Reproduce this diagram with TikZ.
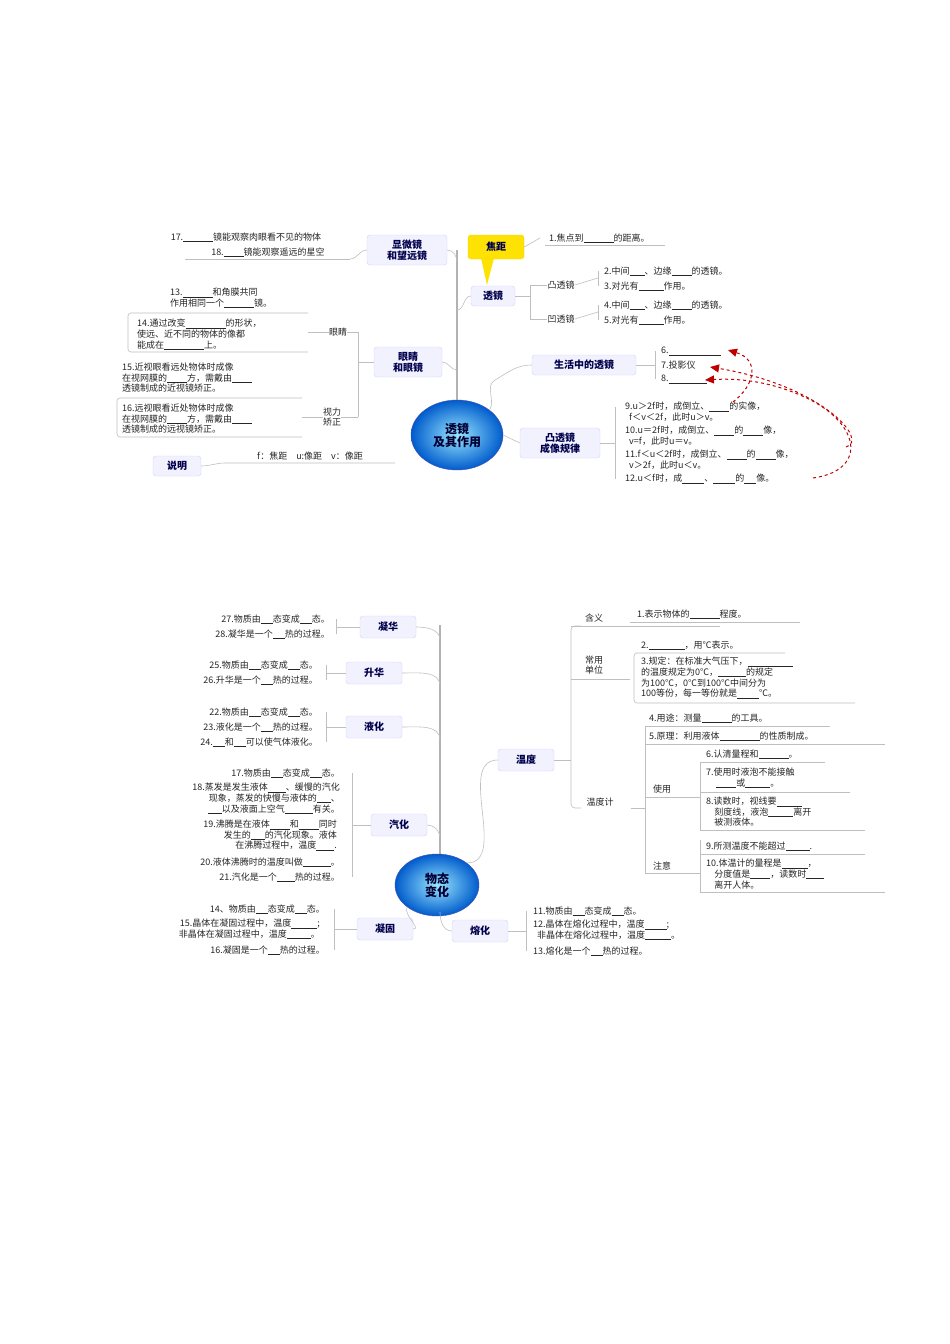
\documentclass[tikz,border=0pt]{standalone}
\usepackage{fontspec}
\setmainfont{Noto Sans CJK SC}
\usetikzlibrary{arrows.meta,shapes.geometric}
\newcommand{\bl}[1]{\rule[-1.5pt]{#1pt}{0.5pt}}
\begin{document}
\begin{tikzpicture}[x=1pt,y=-1pt,
 box/.style={draw=blue!18,fill=blue!5,rounded corners=3pt,font=\fontsize{10}{11}\selectfont\bfseries,text=blue!30!black,align=center,inner sep=2pt},
 t/.style={font=\fontsize{9}{10.6}\selectfont,inner sep=0pt,align=left,text=black!85},
 tr/.style={t,align=right},
 ln/.style={draw=black!25,line width=0.6pt},
 thk/.style={draw=black!30,line width=1.6pt},
 red/.style={draw=red!75!black,dashed,line width=1pt,-{Triangle[length=9pt,width=8pt]}},
 ctr/.style={ellipse,draw=blue!40!gray,shading=radial,inner color=blue!25!cyan!40,outer color=blue!55!cyan!80!black,text=blue!20!black,font=\fontsize{12}{13}\selectfont\bfseries,align=center}]
\useasboundingbox (0,0) rectangle (950,1344);
\fill[white] (0,0) rectangle (950,1344);
% ===== top =====
\draw[thk] (457,250) -- (457,405);
\node[ctr,minimum width=92,minimum height=70] (c1) at (457,435) {透镜\\及其作用};
\node[box,minimum width=80,minimum height=30] (xw) at (407,250) {显微镜\\和望远镜};
\node[box,minimum width=68,minimum height=30] (yj) at (408,362) {眼睛\\和眼镜};
\node[box,minimum width=44,minimum height=20] (tj) at (493,296) {透镜};
\node[box,minimum width=104,minimum height=20] (sh) at (584,365) {生活中的透镜};
\node[box,minimum width=80,minimum height=30] (ct) at (560,443) {凸透镜\\成像规律};
\node[box,minimum width=48,minimum height=20] (sm) at (177,466) {说明};
\fill[yellow!85!orange] (481,258) -- (487,285) -- (494,258) -- cycle;
\node[box,draw=yellow!70!orange,fill=yellow!85!orange,minimum width=56,minimum height=24] (jj) at (496,247) {焦距};
\draw[ln] (xw.east) to[out=0,in=90] (457,262);
\draw[ln] (yj.east) to[out=0,in=180] (457,370);
\draw[ln] (tj.west) to[out=180,in=0] (457,310);
\draw[ln] (sh.west) to[out=180,in=30] (495,380) to[out=210,in=60] (c1.north east);
\draw[ln] (ct.west) -- (c1.east);
\draw[ln] (jj.east) -- (540,238);
% left texts
\node[t] at (246,237) {17.\bl{30}镜能观察肉眼看不见的物体};
\node[t] (t18) at (268,252) {18.\bl{20}镜能观察遥远的星空};
\draw[ln] (185,259) -- (350,259);
\draw[ln] (xw.west) to[out=180,in=0] (350,259);
\node[t,anchor=north west] at (170,288) {13.\bl{30}和角膜共同\\作用相同一个\bl{30}镜。};
\draw[ln,rounded corners=3pt] (308,313) -- (128,313) -- (128,352) -- (308,352);
\node[t,anchor=north west] at (137,319) {14.通过改变\bl{40}的形状，\\使远、近不同的物体的像都\\能成在\bl{40}上。};
\node[t] (yan) at (338,332) {眼睛};
\node[t,anchor=north west] at (122,363) {15.近视眼看远处物体时成像\\在视网膜的\bl{20}方，需戴由\bl{20}\\透镜制成的近视镜矫正。};
\draw[ln,rounded corners=3pt] (302,398) -- (117,398) -- (117,437) -- (302,437);
\node[t,anchor=north west] at (122,404) {16.远视眼看近处物体时成像\\在视网膜的\bl{20}方，需戴由\bl{20}\\透镜制成的远视镜矫正。};
\node[t] (sl) at (332,417) {视力\\矫正};
\draw[ln] (yj.west) -- (358,362);
\draw[ln] (358,332) -- (358,417);
\draw[ln] (yan.east) -- (358,332); \draw[ln] (sl.east) -- (358,417);
\draw[ln] (308,332) -- (yan.west); \draw[ln] (302,417) -- (sl.west);
\node[t] at (310,456) {\textit{f}：焦距\quad \textit{u}:像距\quad \textit{v}：像距};
\draw[ln] (sm.east) to[out=0,in=180] (225,463) -- (395,463);
% right texts
\node[t,anchor=west] at (549,238) {1.焦点到\bl{30}的距离。};
\draw[ln] (545,245) -- (665,245);
\node[t] (tt) at (561,285) {凸透镜};
\node[t] (at) at (561,319) {凹透镜};
\draw[ln] (tj.east) -- (530,296); \draw[ln] (530,285) -- (530,319);
\draw[ln] (530,285) -- (tt.west); \draw[ln] (530,319) -- (at.west);
\node[t,anchor=west] at (604,271) {2.中间\bl{15}、边缘\bl{20}的透镜。};
\node[t,anchor=west] at (604,286) {3.对光有\bl{25}作用。};
\node[t,anchor=west] at (604,305) {4.中间\bl{15}、边缘\bl{20}的透镜。};
\node[t,anchor=west] at (604,320) {5.对光有\bl{25}作用。};
\draw[ln] (598,271) -- (598,286); \draw[ln] (598,305) -- (598,320);
\draw[ln] (598,278) -- (tt.east); \draw[ln] (598,312) -- (at.east);
\node[t,anchor=west] (s6) at (661,351) {6.\bl{52}};
\node[t,anchor=west] (s7) at (661,365) {7.投影仪};
\node[t,anchor=west] (s8) at (661,379) {8.\bl{38}};
\draw[ln] (sh.east) -- (655,365); \draw[ln] (655,351) -- (655,379);
\node[t,anchor=north west] (r9) at (625,402) {9.\textit{u}＞2\textit{f}时，成倒立、\bl{20}的实像，\\\ \ \textit{f}＜\textit{v}＜2\textit{f}，此时\textit{u}＞\textit{v}。};
\node[t,anchor=north west] (r10) at (625,426) {10.\textit{u}＝2\textit{f}时，成倒立、\bl{20}的\bl{20}像，\\\ \ \textit{v}=\textit{f}，此时\textit{u}＝\textit{v}。};
\node[t,anchor=north west] (r11) at (625,450) {11.\textit{f}＜\textit{u}＜2\textit{f}时，成倒立、\bl{20}的\bl{20}像，\\\ \ \textit{v}＞2\textit{f}，此时\textit{u}＜\textit{v}。};
\node[t,anchor=north west] (r12) at (625,474) {12.\textit{u}＜\textit{f}时，成\bl{22}、\bl{22}的\bl{12}像。};
\draw[ln] (ct.east) -- (615,443); \draw[ln] (615,407) -- (615,479);
\coordinate (a9) at (733,402); \coordinate (a11) at (846,447); \coordinate (a12) at (813,478);
\draw[red] (a9) .. controls (755,385) and (760,360) .. (728,350);
\draw[red] (a11) .. controls (870,440) and (820,385) .. (710,367);
\draw[red] (a12) .. controls (870,470) and (860,420) .. (800,395) .. controls (770,382) and (740,378) .. (705,380);
% ===== bottom =====
\draw[thk] (440,625) -- (440,860);
\node[ctr,minimum width=84,minimum height=62] (c2) at (437,885) {物态\\变化};
\node[box,minimum width=56,minimum height=22] (nh) at (388,627) {凝华};
\node[box,minimum width=56,minimum height=22] (shh) at (374,673) {升华};
\node[box,minimum width=56,minimum height=22] (yh) at (374,727) {液化};
\node[box,minimum width=56,minimum height=22] (qh) at (399,825) {汽化};
\node[box,minimum width=56,minimum height=22] (ng) at (385,929) {凝固};
\node[box,minimum width=56,minimum height=22] (rh) at (480,931) {熔化};
\node[box,minimum width=56,minimum height=22] (wd) at (526,760) {温度};
\foreach \n/\y in {nh/640,shh/686,yh/740,qh/838} \draw[ln] (\n.east) to[out=0,in=90] (440,\y);
\draw[ln] (ng.east) to[out=0,in=240] (c2.south west);
\draw[ln] (rh.west) to[out=180,in=270] (440,912);
\draw[ln] (wd.west) to[out=180,in=0] (c2.north east);
\node[tr,anchor=east] at (330,619) {27.物质由\bl{12}态变成\bl{12}态。};
\node[tr,anchor=east] at (330,634) {28.凝华是一个\bl{12}热的过程。};
\draw[ln] (336,619) -- (336,634); \draw[ln] (336,627) -- (nh.west);
\node[tr,anchor=east] at (318,665) {25.物质由\bl{12}态变成\bl{12}态。};
\node[tr,anchor=east] at (318,680) {26.升华是一个\bl{12}热的过程。};
\draw[ln] (326,665) -- (326,680); \draw[ln] (326,673) -- (shh.west);
\node[tr,anchor=east] at (318,712) {22.物质由\bl{12}态变成\bl{12}态。};
\node[tr,anchor=east] at (318,727) {23.液化是一个\bl{12}热的过程。};
\node[tr,anchor=east] at (318,742) {24.\bl{12}和\bl{12}可以使气体液化。};
\draw[ln] (326,712) -- (326,742); \draw[ln] (326,727) -- (yh.west);
\node[tr,anchor=east] at (340,773) {17.物质由\bl{12}态变成\bl{12}态。};
\node[tr,anchor=north east] at (340,783) {18.蒸发是发生液体\bl{18}、缓慢的汽化\\现象，蒸发的快慢与液体的\bl{14}、\\\bl{14}以及液面上空气\bl{28}有关。};
\node[tr,anchor=north east] at (337,820) {19.沸腾是在液体\bl{20}和\bl{20}同时\\发生的\bl{14}的汽化现象。液体\\在沸腾过程中，温度\bl{18}.};
\node[tr,anchor=east] at (340,862) {20.液体沸腾时的温度叫做\bl{28}。};
\node[tr,anchor=east] at (340,877) {21.汽化是一个\bl{18}热的过程。};
\draw[ln] (352,773) -- (352,877); \draw[ln] (352,825) -- (qh.west);
\node[tr,anchor=east] at (325,909) {14、物质由\bl{12}态变成\bl{12}态。};
\node[tr,anchor=north east] at (320,919) {15.晶体在凝固过程中，温度\bl{26};\\非晶体在凝固过程中，温度\bl{24}。};
\node[tr,anchor=east] at (325,950) {16.凝固是一个\bl{12}热的过程。};
\draw[ln] (334,909) -- (334,950); \draw[ln] (334,929) -- (ng.west);
\node[t,anchor=west] at (533,911) {11.物质由\bl{12}态变成\bl{12}态。};
\node[t,anchor=north west] at (533,920) {12.晶体在熔化过程中，温度\bl{22};\\\ \ 非晶体在熔化过程中，温度\bl{26}。};
\node[t,anchor=west] at (533,951) {13.熔化是一个\bl{12}热的过程。};
\draw[ln] (526,911) -- (526,951); \draw[ln] (rh.east) -- (526,931);
% 温度 branch
\draw[ln] (wd.east) -- (571,760); \draw[ln,rounded corners=4pt] (581,626) -- (571,626) -- (571,808) -- (581,808);
\node[t] (hy) at (594,618) {含义};
\node[t] (cy) at (594,665) {常用\\单位};
\node[t] (wdj) at (600,802) {温度计};
\draw[ln] (571,679) -- (630,679);
\draw[ln] (571,626) -- (720,626);
\node[t,anchor=west] at (637,614) {1.表示物体的\bl{30}程度。};
\draw[ln] (630,622) -- (800,622);
\node[t,anchor=west] at (641,645) {2.\bl{36}，用℃表示。};
\draw[ln,rounded corners=3pt] (785,653) -- (634,653) -- (634,703) -- (855,703);
\node[t,anchor=north west] at (641,657) {3.规定：在标准大气压下，\bl{45}\\的温度规定为0℃，\bl{28}的规定\\为100℃，0℃到100℃中间分为\\100等份，每一等份就是\bl{22}℃。};
\draw[ln] (631,808) -- (645,808); \draw[ln] (645,726) -- (645,873);
\draw[ln] (645,726) -- (830,726);
\node[t,anchor=west] at (649,718) {4.用途：测量\bl{30}的工具。};
\node[t,anchor=west] at (649,736) {5.原理：利用液体\bl{40}的性质制成。};
\draw[ln] (645,744) -- (885,744);
\node[t] (sy) at (662,789) {使用};
\node[t] (zy) at (662,866) {注意};
\draw[ln] (645,797) -- (700,797); \draw[ln] (645,873) -- (700,873);
\draw[ln] (700,762) -- (700,830); \draw[ln] (700,840) -- (700,892);
\node[t,anchor=west] at (706,754) {6.认清量程和\bl{30}。};
\draw[ln] (700,762) -- (825,762);
\node[t,anchor=north west] at (706,768) {7.使用时液泡不能接触\\\ \ \ \ \ \bl{20}或\bl{25}。};
\draw[ln] (700,792) -- (850,792);
\node[t,anchor=north west] at (706,797) {8.读数时，视线要\bl{25}\\\ \ \ \ 刻度线，液泡\bl{25}离开\\\ \ \ \ 被测液体。};
\draw[ln] (700,830) -- (865,830);
\node[t,anchor=west] at (706,846) {9.所测温度不能超过\bl{24}.};
\draw[ln] (700,854) -- (865,854);
\node[t,anchor=north west] at (706,859) {10.体温计的量程是\bl{26}，\\\ \ \ \ 分度值是\bl{20}，读数时\bl{18}\\\ \ \ \ 离开人体。};
\draw[ln] (700,892) -- (885,892);
\end{tikzpicture}
\end{document}
